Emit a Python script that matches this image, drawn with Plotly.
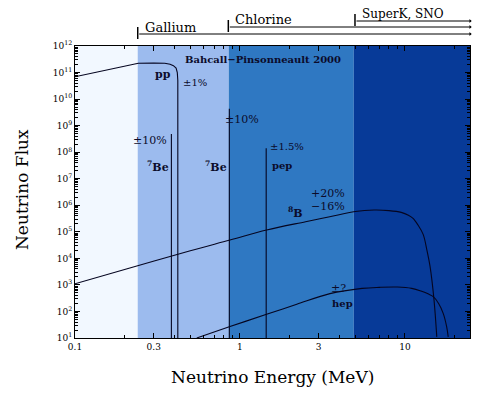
import numpy as np
import plotly.graph_objects as go

# ---------------- data ----------------
band_edges = [0.1, 0.24, 0.855, 4.9, 24.8]
band_colors = ["#F2F8FF", "#9CBBEE", "#2F78C2", "#073A98"]

pp_energy = [0.1, 0.15, 0.2, 0.242, 0.3, 0.35, 0.377, 0.395, 0.41, 0.417, 0.42, 0.42]
pp_flux = [6.9e10, 1.17e11, 1.74e11, 2.24e11, 2.29e11, 2.24e11, 2.04e11, 1.82e11,
           1.48e11, 1.0e11, 5.0e10, 10]

b8_energy = [0.1, 0.215, 0.5, 0.87, 1.45, 2.5, 3.5, 5.0, 6.5, 8.0, 9.5, 10.5,
             11.2, 12.0, 12.9, 13.6, 14.2, 15.0, 15.6]
b8_flux = [1.1e3, 4.3e3, 1.95e4, 4.9e4, 1.17e5, 2.4e5, 3.7e5, 5.8e5, 6.6e5, 6.3e5,
           5.4e5, 4.2e5, 3.2e5, 1.8e5, 8.0e4, 2.0e4, 5.0e3, 2.8e2, 11]

hep_energy = [0.547, 0.87, 1.45, 2.21, 3.51, 5.5, 7.0, 9.0, 11.0, 12.5, 13.8,
              14.85, 16.0, 17.06, 17.9, 18.3]
hep_flux = [10, 27, 78, 186, 470, 740, 810, 830, 740, 590, 460,
            360, 200, 85, 27, 11]

line_energy = [0.384, 0.862, 1.442]
line_flux = [4.8e8, 4.3e9, 1.4e8]

x_tickvals = [0.1, 0.3, 1, 3, 10]
x_ticktext = ["0.1", "0.3", "1", "3", "10"]
y_exponents = list(range(1, 13))

detectors = ["Gallium", "Chlorine", "SuperK, SNO"]
detector_thresholds = [0.24, 0.85, 4.98]

# ---------------- layout geometry (screen pixels) ----------------
OFF = 8  # default page margin around the plot div
L, R, T, B = 75, 470, 46, 338
W, H = 480, 380
XMIN, XMAX = -1.0, np.log10(24.8)


def px(x):
    return (x - L) / (R - L)


def py(y):
    return (B - y) / (B - T)


def ex(e):
    return (np.log10(e) - XMIN) / (XMAX - XMIN)


FONT = "DejaVu Serif"
fig = go.Figure()

for i, c in enumerate(band_colors):
    a, b = band_edges[i], band_edges[i + 1]
    fig.add_trace(go.Scatter(x=[a, a, b, b, a], y=[10, 1e12, 1e12, 10, 10],
                             fill="toself", fillcolor=c, mode="lines",
                             line=dict(width=0), hoverinfo="skip", showlegend=False))

lc = "#050520"
fig.add_trace(go.Scatter(x=pp_energy, y=pp_flux, mode="lines",
                         line=dict(color=lc, width=1.1), showlegend=False))
fig.add_trace(go.Scatter(x=b8_energy, y=b8_flux, mode="lines", line_shape="spline",
                         line=dict(color=lc, width=1.1), showlegend=False))
fig.add_trace(go.Scatter(x=hep_energy, y=hep_flux, mode="lines", line_shape="spline",
                         line=dict(color=lc, width=1.1), showlegend=False))
for e, f in zip(line_energy, line_flux):
    fig.add_trace(go.Scatter(x=[e, e], y=[10, f], mode="lines",
                             line=dict(color=lc, width=1.1), showlegend=False))

annotations = []


def txt(s, x, y, size=11, bold=False):
    annotations.append(dict(text=("<b>%s</b>" % s) if bold else s, x=px(x), y=py(y),
                            xref="paper", yref="paper", showarrow=False,
                            font=dict(family=FONT, size=size, color="#0b0b2a"),
                            xanchor="center", yanchor="middle"))


txt("Bahcall\u2212Pinsonneault 2000", 263, 60, 10, True)
txt("pp", 163, 75, 11, True)
txt("\u00b11%", 195, 82, 10)
txt("\u00b110%", 242, 119, 11)
txt("\u00b110%", 150, 140, 11)
txt("<sup>7</sup>Be", 158, 166, 11, True)
txt("<sup>7</sup>Be", 216, 166, 11, True)
txt("\u00b11.5%", 287, 146, 10)
txt("pep", 282, 165, 10, True)
txt("+20%", 328, 193, 11)
txt("\u221216%", 328, 206, 11)
txt("<sup>8</sup>B", 295, 212, 11, True)
txt("\u00b1?", 338, 288, 11)
txt("hep", 342, 303, 10, True)

# axis titles
annotations.append(dict(text="Neutrino Energy (MeV)", x=px(272), y=py(377),
                        xref="paper", yref="paper", showarrow=False,
                        font=dict(family=FONT, size=17, color="black"),
                        xanchor="center", yanchor="middle"))
annotations.append(dict(text="Neutrino Flux", x=px(22), y=py(190), textangle=-90,
                        xref="paper", yref="paper", showarrow=False,
                        font=dict(family=FONT, size=17, color="black"),
                        xanchor="center", yanchor="middle"))

# detector brackets
bracket_y = [34, 27, 21]
label_y = [27, 19.5, 14]
label_size = [13, 13, 12]
shapes = []
tip = 1.004
for name, thr, by, ly, ls in zip(detectors, detector_thresholds, bracket_y, label_y,
                                 label_size):
    x0 = ex(thr)
    shapes.append(dict(type="line", xref="paper", yref="paper", x0=x0, x1=x0,
                       y0=py(by - 7), y1=py(by + 5), line=dict(color="black", width=1.5)))
    annotations.append(dict(text="", x=tip, y=py(by), ax=-(tip - x0) * (R - L), ay=0,
                            xref="paper", yref="paper", axref="pixel", ayref="pixel",
                            showarrow=True, arrowhead=1, arrowsize=0.7, arrowwidth=1,
                            arrowcolor="black"))
    annotations.append(dict(text=name, x=x0 + px(L + 5), y=py(ly),
                            xref="paper", yref="paper", showarrow=False,
                            font=dict(family=FONT, size=ls, color="black"),
                            xanchor="left", yanchor="middle"))

fig.update_layout(
    width=W, height=H,
    margin=dict(l=L - OFF, r=W - (R - OFF), t=T - OFF, b=H - (B - OFF), pad=0),
    paper_bgcolor="white", plot_bgcolor="white",
    showlegend=False,
    annotations=annotations, shapes=shapes,
    xaxis=dict(type="log", range=[XMIN, XMAX], tickvals=x_tickvals, ticktext=x_ticktext,
               ticks="inside", ticklen=5, tickcolor="black", showline=True,
               linecolor="black", linewidth=1, mirror="ticks", showgrid=False,
               zeroline=False, tickfont=dict(family=FONT, size=9, color="black"),
               minor=dict(ticks="inside", ticklen=3, tickcolor="black", dtick="D1",
                          showgrid=False)),
    yaxis=dict(type="log", range=[1, 12], tickvals=[10.0 ** k for k in y_exponents],
               ticktext=["10<sup>%d</sup>" % k for k in y_exponents],
               ticks="inside", ticklen=5, tickcolor="black", showline=True,
               linecolor="black", linewidth=1, mirror="ticks", showgrid=False,
               zeroline=False, tickfont=dict(family=FONT, size=9, color="black"),
               minor=dict(ticks="inside", ticklen=3, tickcolor="black", dtick="D1",
                          showgrid=False)),
)

fig.write_html("out.html")
